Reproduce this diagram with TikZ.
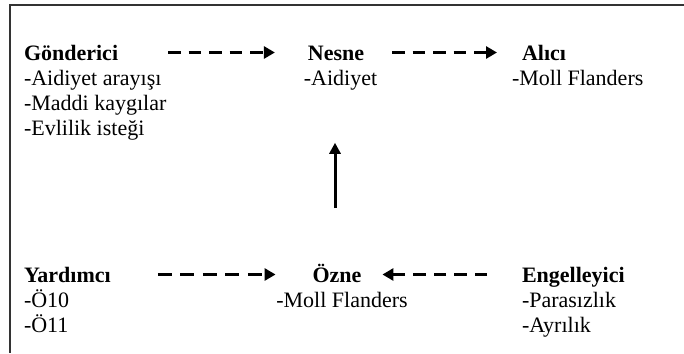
\documentclass[tikz,border=0pt]{standalone}
\usepackage{fontspec}
\setmainfont{Liberation Serif}
\usetikzlibrary{arrows.meta}
\tikzset{
  txt/.style={inner sep=0pt, outer sep=0pt, font=\fontsize{22}{25}\selectfont},
  ttl/.style={txt, text height=15pt, text depth=0pt, font=\fontsize{22}{25}\selectfont\bfseries},
  dasharr/.style={line width=3.2pt, dash pattern=on 12.5pt off 8pt, -{Triangle[length=11pt,width=12pt]}},
  solidarr/.style={line width=3pt, -{Triangle[length=11pt,width=11pt]}},
  frame/.style={line width=2pt, black!80}
}
\begin{document}
\begin{tikzpicture}[x=1pt,y=-1pt]
\useasboundingbox (0,0) rectangle (684,353);
\draw[frame] (684,5) -- (9.5,5) -- (9.5,353);
% top row
\node[ttl, anchor=base west] (gond) at (24,60) {Gönderici};
\node[txt, anchor=base west] (gondL) at (24,85) {\begin{tabular}[t]{@{}l@{}}-Aidiyet arayışı\\-Maddi kaygılar\\-Evlilik isteği\end{tabular}};
\node[ttl, anchor=base] (nesne) at (336,60) {Nesne};
\node[txt, anchor=base] (nesneL) at (340.5,85) {-Aidiyet};
\node[ttl, anchor=base west] (alici) at (522,60) {Alıcı};
\node[txt, anchor=base west] (aliciL) at (512,85) {-Moll Flanders};
% bottom row
\node[ttl, anchor=base west] (yard) at (24,282) {Yardımcı};
\node[txt, anchor=base west] (yardL) at (24,307) {\begin{tabular}[t]{@{}l@{}}-Ö10\\-Ö11\end{tabular}};
\node[ttl, anchor=base] (ozne) at (337,282) {Özne};
\node[txt, anchor=base] (ozneL) at (342,307) {-Moll Flanders};
\node[ttl, anchor=base west] (engel) at (522,282) {Engelleyici};
\node[txt, anchor=base west] (engelL) at (522,307) {\begin{tabular}[t]{@{}l@{}}-Parasızlık\\-Ayrılık\end{tabular}};
% connectors
\draw[dasharr, shorten <=50pt, shorten >=33pt] (gond.east) -- (gond.east -| nesne.west);
\draw[dasharr, shorten <=28pt, shorten >=25pt] (nesne.east) -- (alici.west);
\draw[dasharr, dash pattern=on 14pt off 8.5pt, shorten <=47pt, shorten >=37pt] (yard.east) -- (yard.east -| ozne.west);
\draw[dasharr, shorten <=35pt, shorten >=21pt] (engel.west) -- (engel.west -| ozne.east);
\draw[solidarr, shorten <=59pt, shorten >=53pt] ([xshift=-2pt]ozne.north) -- ([xshift=-2pt]ozne.north |- nesneL.south);
\end{tikzpicture}
\end{document}
